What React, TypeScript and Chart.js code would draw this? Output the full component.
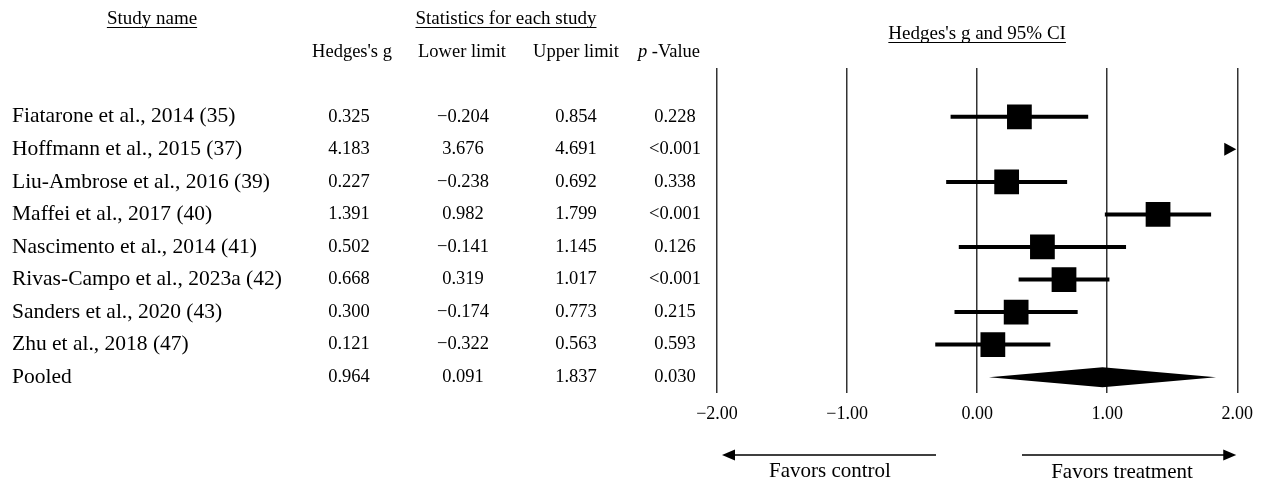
import React, { useEffect, useRef } from 'react';
import { Chart, registerables } from 'chart.js';

Chart.register(...registerables);

// ---------- data ----------
const studyNames = [
  'Fiatarone et al., 2014 (35)',
  'Hoffmann et al., 2015 (37)',
  'Liu-Ambrose et al., 2016 (39)',
  'Maffei et al., 2017 (40)',
  'Nascimento et al., 2014 (41)',
  'Rivas-Campo et al., 2023a (42)',
  'Sanders et al., 2020 (43)',
  'Zhu et al., 2018 (47)',
];
const hedgesG = [0.325, 4.183, 0.227, 1.391, 0.502, 0.668, 0.3, 0.121];
const lowerLimit = [-0.204, 3.676, -0.238, 0.982, -0.141, 0.319, -0.174, -0.322];
const upperLimit = [0.854, 4.691, 0.692, 1.799, 1.145, 1.017, 0.773, 0.563];
const pValues = ['0.228', '<0.001', '0.338', '<0.001', '0.126', '<0.001', '0.215', '0.593'];

const pooledName = 'Pooled';
const pooledG = 0.964;
const pooledLower = 0.091;
const pooledUpper = 1.837;
const pooledP = '0.030';

const xTicks = [-2, -1, 0, 1, 2];

const FONT = '"Liberation Serif", "Times New Roman", Times, serif';

const fmt3 = (v: number) => (v < 0 ? '\u2212' : '') + Math.abs(v).toFixed(3);
const fmt2 = (v: number) => (v < 0 ? '\u2212' : '') + Math.abs(v).toFixed(2);

const ROW_COUNT = studyNames.length + 1;

const forestPlugin = {
  id: 'forestExtras',
  afterDatasetsDraw(chart: any) {
    const { ctx, chartArea, scales } = chart;
    const x = scales.x;
    const y = scales.y;
    ctx.save();
    ctx.beginPath();
    ctx.rect(chartArea.left, chartArea.top, chartArea.right - chartArea.left, chartArea.bottom - chartArea.top);
    ctx.clip();
    ctx.fillStyle = '#000';
    // off-scale arrows
    studyNames.forEach((_, i) => {
      if (lowerLimit[i] > x.max) {
        const tip = x.getPixelForValue(x.max) - 1;
        const cy = y.getPixelForValue(i);
        ctx.beginPath();
        ctx.moveTo(tip, cy);
        ctx.lineTo(tip - 12, cy - 6.5);
        ctx.lineTo(tip - 12, cy + 6.5);
        ctx.closePath();
        ctx.fill();
      }
    });
    // pooled diamond
    const py = y.getPixelForValue(studyNames.length);
    const half = 10;
    ctx.beginPath();
    ctx.moveTo(x.getPixelForValue(pooledLower), py);
    ctx.lineTo(x.getPixelForValue(pooledG), py - half);
    ctx.lineTo(x.getPixelForValue(pooledUpper), py);
    ctx.lineTo(x.getPixelForValue(pooledG), py + half);
    ctx.closePath();
    ctx.fill();
    ctx.restore();
  },
  afterDraw(chart: any) {
    const { ctx, chartArea, scales } = chart;
    const y = scales.y;
    ctx.save();
    ctx.fillStyle = '#000';
    ctx.strokeStyle = '#000';
    ctx.textBaseline = 'middle';

    const underlined = (text: string, cx: number, cy: number) => {
      ctx.textAlign = 'center';
      ctx.fillText(text, cx, cy);
      const w = ctx.measureText(text).width;
      ctx.lineWidth = 1;
      ctx.beginPath();
      ctx.moveTo(cx - w / 2, cy + 8.5);
      ctx.lineTo(cx + w / 2, cy + 8.5);
      ctx.stroke();
    };

    // headers
    ctx.font = `19px ${FONT}`;
    underlined('Study name', 152, 19);
    underlined('Statistics for each study', 506, 19);
    underlined("Hedges's g and 95% CI", (chartArea.left + chartArea.right) / 2, 34);

    ctx.font = `18.5px ${FONT}`;
    ctx.textAlign = 'center';
    ctx.fillText("Hedges's g", 352, 52);
    ctx.fillText('Lower limit', 462, 52);
    ctx.fillText('Upper limit', 576, 52);
    // p -Value
    ctx.font = `italic 18.5px ${FONT}`;
    const pw = ctx.measureText('p').width;
    ctx.font = `18.5px ${FONT}`;
    const vw = ctx.measureText(' -Value').width;
    const startX = 669 - (pw + vw) / 2;
    ctx.textAlign = 'left';
    ctx.font = `italic 18.5px ${FONT}`;
    ctx.fillText('p', startX, 52);
    ctx.font = `18.5px ${FONT}`;
    ctx.fillText(' -Value', startX + pw, 52);

    // rows
    const names = [...studyNames, pooledName];
    const gs = [...hedgesG, pooledG];
    const los = [...lowerLimit, pooledLower];
    const his = [...upperLimit, pooledUpper];
    const ps = [...pValues, pooledP];
    for (let i = 0; i < ROW_COUNT; i++) {
      const cy = y.getPixelForValue(i);
      ctx.font = `21.5px ${FONT}`;
      ctx.textAlign = 'left';
      ctx.fillText(names[i], 12, cy);
      ctx.font = `18.5px ${FONT}`;
      ctx.textAlign = 'center';
      ctx.fillText(fmt3(gs[i]), 349, cy);
      ctx.fillText(fmt3(los[i]), 463, cy);
      ctx.fillText(fmt3(his[i]), 576, cy);
      ctx.fillText(ps[i], 675, cy);
    }

    // favors arrows
    const ay = 455;
    ctx.lineWidth = 1.5;
    const l0 = chartArea.left + 5;
    const l1 = 936;
    const r0 = 1022;
    const r1 = chartArea.right - 1;
    ctx.beginPath();
    ctx.moveTo(l0 + 10, ay);
    ctx.lineTo(l1, ay);
    ctx.moveTo(r0, ay);
    ctx.lineTo(r1 - 10, ay);
    ctx.stroke();
    ctx.beginPath();
    ctx.moveTo(l0, ay);
    ctx.lineTo(l0 + 13, ay - 5.5);
    ctx.lineTo(l0 + 13, ay + 5.5);
    ctx.closePath();
    ctx.fill();
    ctx.beginPath();
    ctx.moveTo(r1, ay);
    ctx.lineTo(r1 - 13, ay - 5.5);
    ctx.lineTo(r1 - 13, ay + 5.5);
    ctx.closePath();
    ctx.fill();

    ctx.font = `21px ${FONT}`;
    ctx.textAlign = 'center';
    ctx.fillText('Favors control', 830, 471);
    ctx.fillText('Favors treatment', 1122, 472);
    ctx.restore();
  },
};

export default function App() {
  const canvasRef = useRef<HTMLCanvasElement | null>(null);

  useEffect(() => {
    if (!canvasRef.current) return;
    const ciDatasets = studyNames.map((name, i) => ({
      type: 'line' as const,
      label: name,
      data: [
        { x: lowerLimit[i], y: i },
        { x: upperLimit[i], y: i },
      ],
      borderColor: '#000',
      borderWidth: 4,
      pointRadius: 0,
      showLine: true,
      clip: 0,
    }));
    const squares = {
      type: 'scatter' as const,
      label: 'Hedges g',
      data: studyNames.map((_, i) => ({ x: hedgesG[i], y: i })),
      pointStyle: 'rect',
      pointRadius: 17.5,
      pointHoverRadius: 17.5,
      backgroundColor: '#000',
      borderWidth: 0,
      clip: 0,
    };
    const chart = new Chart(canvasRef.current, {
      type: 'scatter',
      data: { datasets: [...ciDatasets, squares] as any },
      options: {
        animation: false,
        responsive: true,
        maintainAspectRatio: false,
        events: [],
        layout: { padding: { left: 717, right: 25, top: 68, bottom: 50 } },
        plugins: { legend: { display: false }, tooltip: { enabled: false } },
        scales: {
          x: {
            type: 'linear',
            min: xTicks[0],
            max: xTicks[xTicks.length - 1],
            afterBuildTicks: (axis: any) => {
              axis.ticks = xTicks.map((v) => ({ value: v }));
            },
            grid: { color: '#333', lineWidth: 1.5, drawTicks: false },
            border: { display: false },
            ticks: {
              padding: 10,
              color: '#000',
              font: { family: FONT, size: 18 },
              callback: (v: any) => fmt2(Number(v)),
              maxRotation: 0,
              autoSkip: false,
            },
          },
          y: {
            type: 'linear',
            min: -1.5,
            max: ROW_COUNT - 0.5,
            reverse: true,
            display: false,
          },
        },
      },
      plugins: [forestPlugin],
    });
    return () => chart.destroy();
  }, []);

  return (
    <div style={{ position: 'fixed', left: 0, top: 0, width: 1263, height: 485, background: '#fff' }}>
      <canvas ref={canvasRef} />
    </div>
  );
}
